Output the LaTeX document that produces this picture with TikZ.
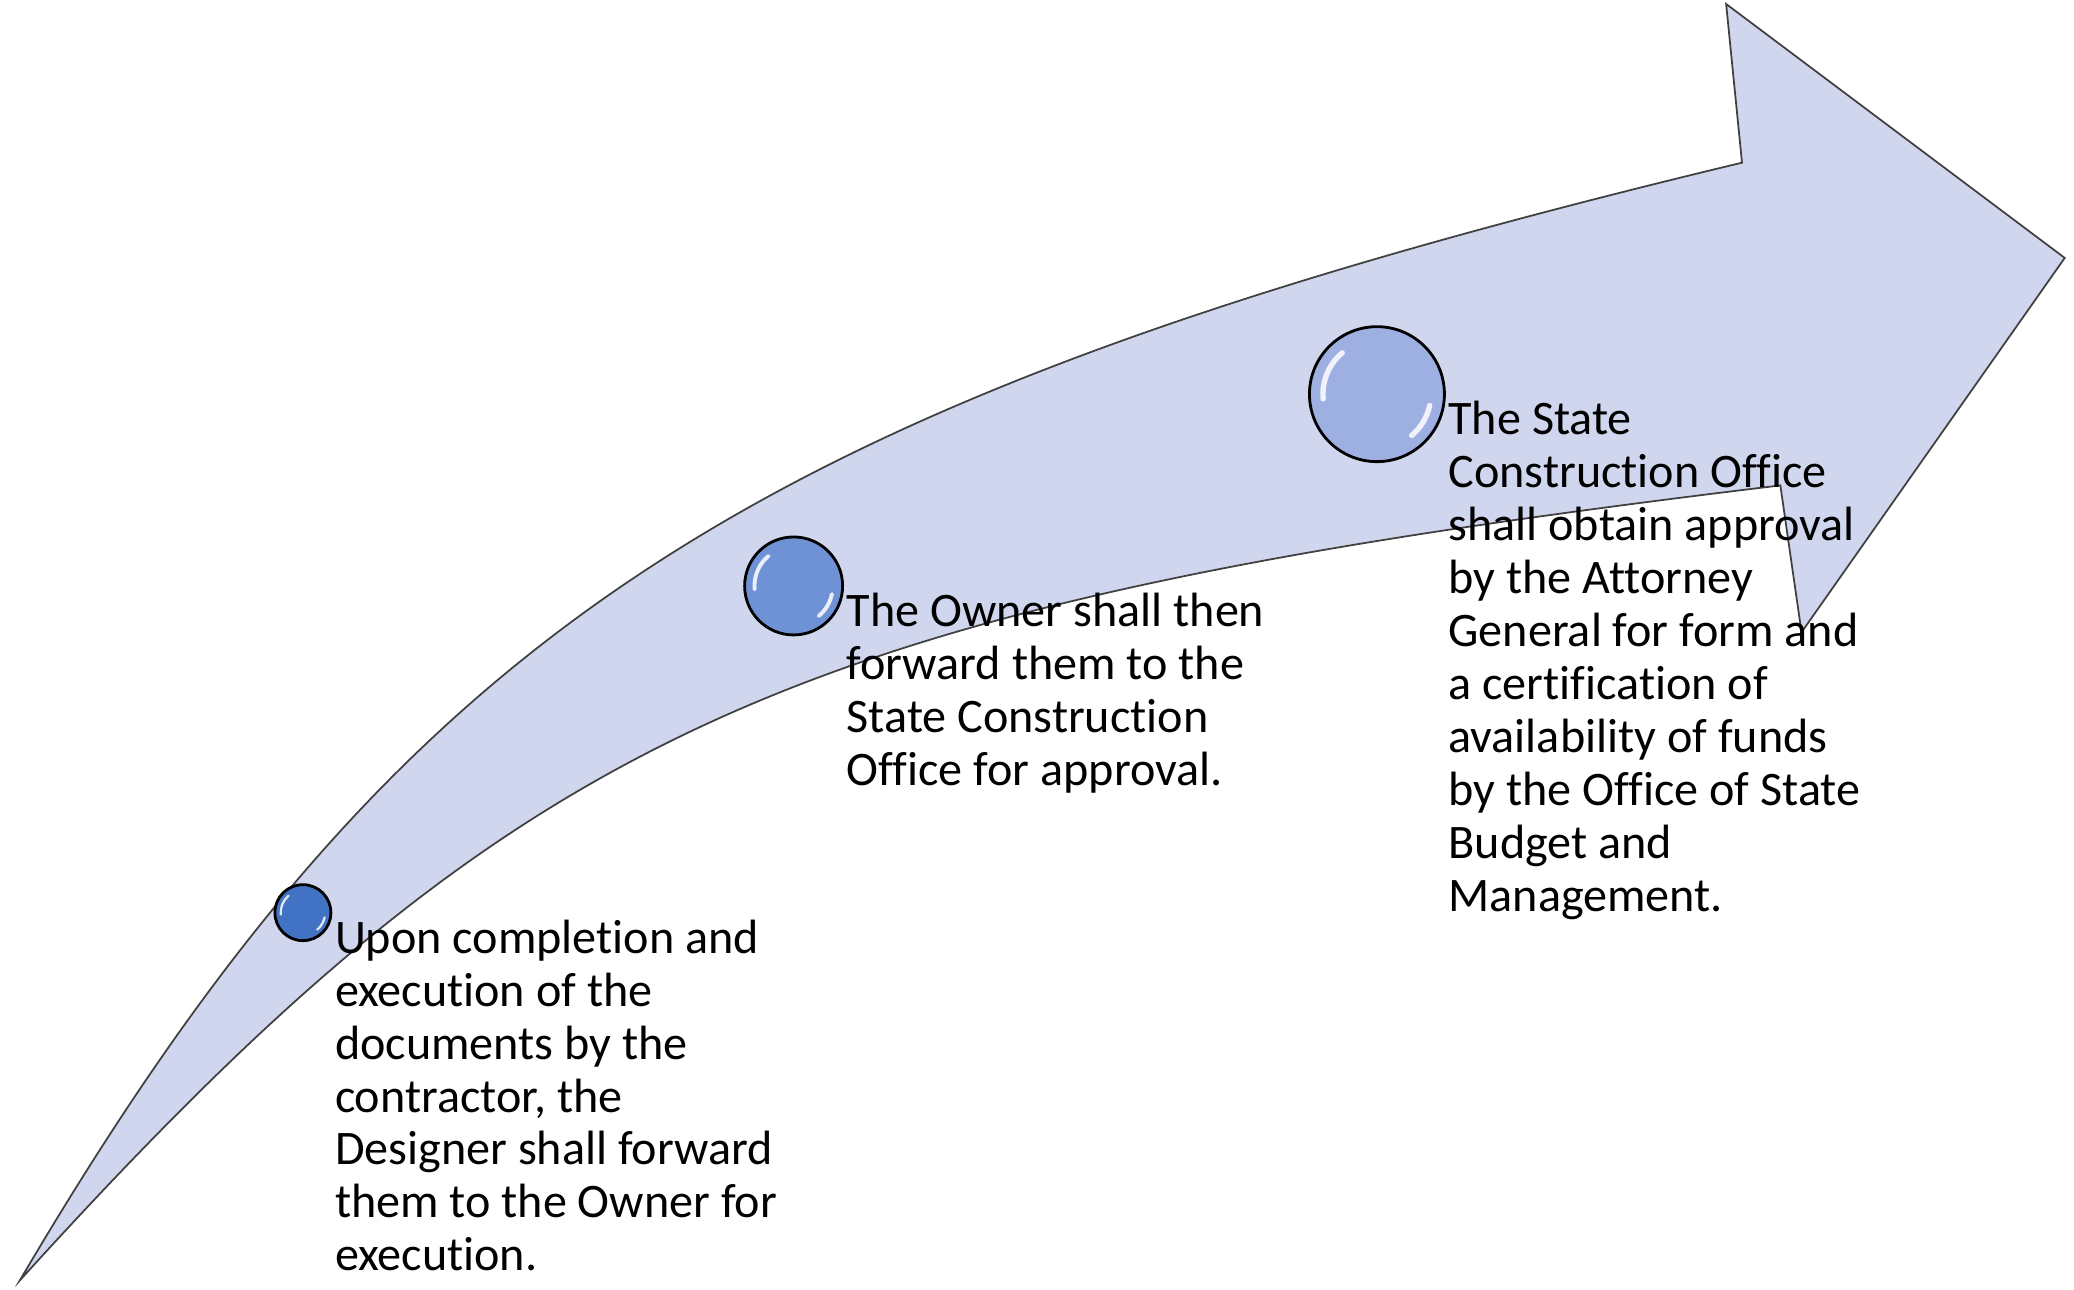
\documentclass[tikz,border=0pt]{standalone}
\usepackage{fontspec}
\setmainfont{Carlito}[Ligatures=NoCommon]
\usetikzlibrary{positioning, calc}
\definecolor{bandfill}{RGB}{208,214,237}
\definecolor{beaddark}{RGB}{66,114,196}
\definecolor{beadmid}{RGB}{111,146,214}
\definecolor{beadlight}{RGB}{158,175,226}

\begin{document}
\begin{tikzpicture}[x=0.013227cm, y=0.013227cm,
    band/.style={fill=bandfill, draw=black!75, line width=0.5pt},
    bead/.style={circle, draw=black, fill=#1, line width=0.8pt, inner sep=0pt},
    gloss/.style={white, opacity=0.85, line cap=round},
    txt/.style={font=\fontsize{13.7}{15.06}\selectfont, align=left, inner sep=0pt}
  ]
  \useasboundingbox (0,0) rectangle (1568,-975);
  \draw[band] (15,-968) .. controls (307,-472) and (567,-303) .. (1317,-123)
    -- (1305,-3) -- (1561,-195) -- (1362,-478) -- (1346,-367)
    .. controls (597,-457) and (397,-547) .. (15,-968) -- cycle;
  \node[bead=beaddark,  minimum size=5.6mm]  (c1) at (229,-690) {};
  \node[bead=beadmid,   minimum size=9.8mm]  (c2) at (600,-443) {};
  \node[bead=beadlight, minimum size=13.5mm] (c3) at (1041,-298) {};
  \foreach \c/\r in {c1/21, c2/37, c3/51} {
    \draw[gloss, line width={0.03*\r}] ($(\c.center)+(130:{0.8*\r})$) arc[start angle=130, end angle=185, radius={0.8*\r}];
    \draw[gloss, line width={0.03*\r}] ($(\c.center)+(-12:{0.8*\r})$) arc[start angle=-12, end angle=-50, radius={0.8*\r}];
  }
  \node[txt, below right=0.65mm and 0.2mm of c1.east] (t1) {Upon completion and\\ execution of the\\ documents by the\\ contractor, the\\ Designer shall forward\\ them to the Owner for\\ execution.};
  \node[txt, below right=0.65mm and 0.2mm of c2.east] (t2) {The Owner shall then\\ forward them to the\\ State Construction\\ Office for approval.};
  \node[txt, below right=0.65mm and 0.2mm of c3.east] (t3) {The State\\ Construction Office\\ shall obtain approval\\ by the Attorney\\ General for form and\\ a certification of\\ availability of funds\\ by the Office of State\\ Budget and\\ Management.};
\end{tikzpicture}
\end{document}
